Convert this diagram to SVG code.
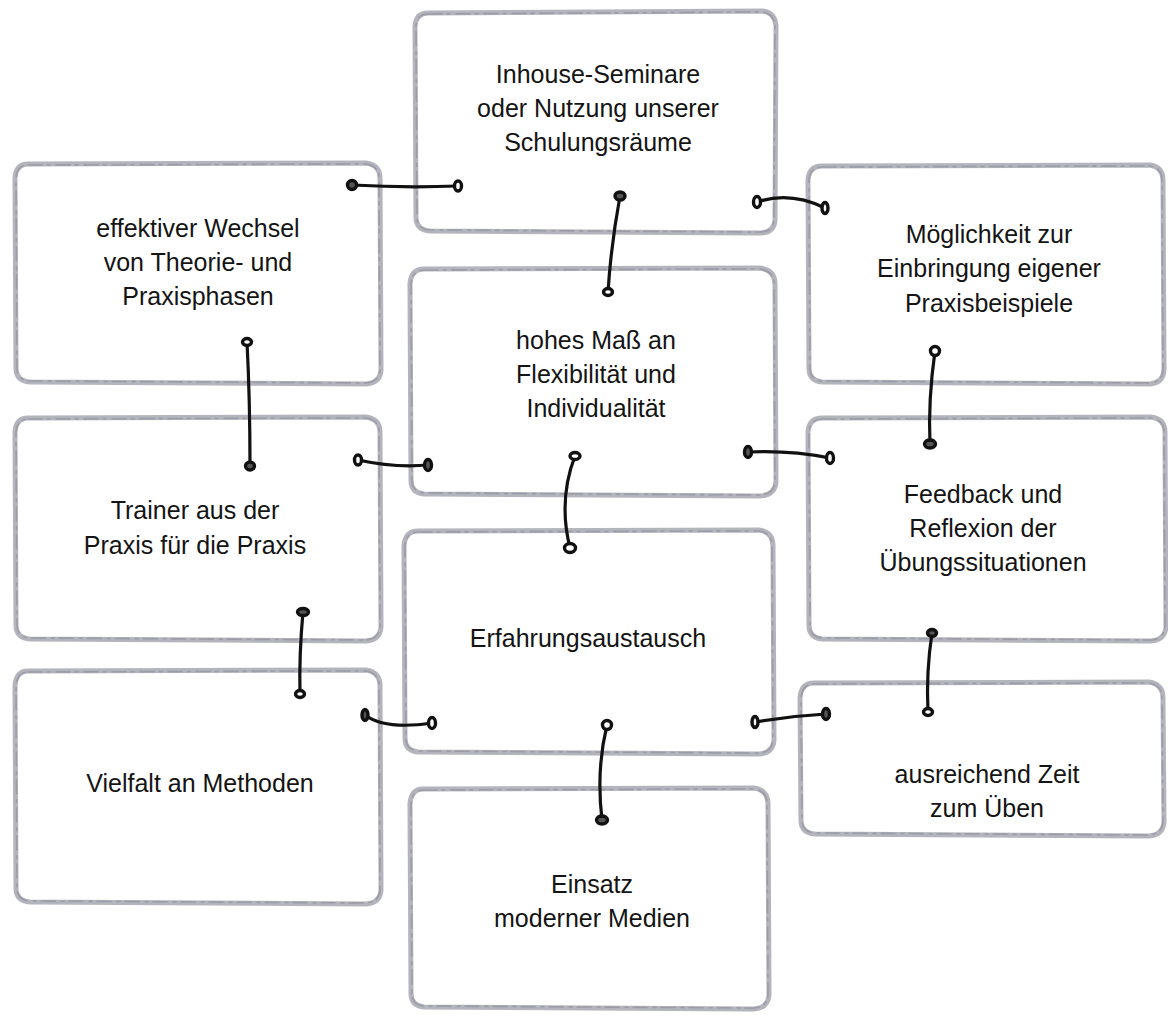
<svg xmlns="http://www.w3.org/2000/svg" width="1168" height="1019" viewBox="0 0 1168 1019">
<style>
.box{fill:none;stroke:#b4b4bd;stroke-width:5;stroke-linejoin:round;stroke-linecap:round}
.box2{fill:none;stroke:#9c9ca8;stroke-width:1.6;stroke-dasharray:14 5 3 6;stroke-linecap:round}
.lbl{font-family:"Liberation Sans",Arial,sans-serif;font-size:25px;fill:#141414;text-anchor:middle}
.con{fill:none;stroke:#111;stroke-width:3.2;stroke-linecap:round}
.pin{fill:#fff;stroke:#111;stroke-width:3.4}
.pinf{fill:#555;stroke:#111;stroke-width:3.4}
</style>
<rect width="1168" height="1019" fill="#fff"/>
<g id="box-inhouse">
<path class="box" d="M428,13 L762,11 Q775,12 776,26 L775,220 Q774,233 760,233 L430,231 Q416,230 416,217 L415,26 Q416,13 428,13 Z"/>
<path class="box2" d="M428,14 L762,12 Q774,13 775,26 L774,220 Q773,232 760,232 L430,230 Q417,229 417,217 L416,26 Q417,14 428,14 Z"/>
<text class="lbl" x="598" y="83">Inhouse-Seminare</text>
<text class="lbl" x="598" y="117">oder Nutzung unserer</text>
<text class="lbl" x="598" y="151">Schulungsräume</text>
</g>
<g id="box-wechsel">
<path class="box" d="M28,164 L366,163 Q380,165 380,178 L381,370 Q380,383 366,384 L30,382 Q16,381 16,368 L15,178 Q16,164 28,164 Z"/>
<path class="box2" d="M28,165 L366,164 Q379,166 379,178 L380,370 Q379,382 366,383 L30,381 Q17,380 17,368 L16,178 Q17,165 28,165 Z"/>
<text class="lbl" x="198" y="237">effektiver Wechsel</text>
<text class="lbl" x="198" y="271">von Theorie- und</text>
<text class="lbl" x="198" y="305">Praxisphasen</text>
</g>
<g id="box-flex">
<path class="box" d="M424,269 L760,268 Q775,270 775,284 L776,482 Q775,495 760,496 L424,494 Q411,493 411,480 L410,284 Q411,269 424,269 Z"/>
<path class="box2" d="M424,270 L760,269 Q774,271 774,284 L775,482 Q774,494 760,495 L424,493 Q412,492 412,480 L411,284 Q412,270 424,270 Z"/>
<text class="lbl" x="596" y="349">hohes Maß an</text>
<text class="lbl" x="596" y="383">Flexibilität und</text>
<text class="lbl" x="596" y="417">Individualität</text>
</g>
<g id="box-beispiele">
<path class="box" d="M822,166 L1150,165 Q1163,167 1163,180 L1164,370 Q1163,383 1150,384 L822,382 Q809,381 809,368 L808,180 Q809,166 822,166 Z"/>
<path class="box2" d="M822,167 L1150,166 Q1162,168 1162,180 L1163,370 Q1162,382 1150,383 L822,381 Q810,380 810,368 L809,180 Q810,167 822,167 Z"/>
<text class="lbl" x="989" y="243">Möglichkeit zur</text>
<text class="lbl" x="989" y="277">Einbringung eigener</text>
<text class="lbl" x="989" y="312">Praxisbeispiele</text>
</g>
<g id="box-trainer">
<path class="box" d="M28,418 L366,417 Q380,419 380,432 L381,627 Q380,640 366,641 L30,639 Q16,638 16,625 L15,432 Q16,418 28,418 Z"/>
<path class="box2" d="M28,419 L366,418 Q379,420 379,432 L380,627 Q379,639 366,640 L30,638 Q17,637 17,625 L16,432 Q17,419 28,419 Z"/>
<text class="lbl" x="195" y="519">Trainer aus der</text>
<text class="lbl" x="195" y="554">Praxis für die Praxis</text>
</g>
<g id="box-austausch">
<path class="box" d="M418,531 L759,530 Q773,532 773,546 L774,740 Q773,753 759,754 L418,752 Q405,751 405,738 L404,546 Q405,531 418,531 Z"/>
<path class="box2" d="M418,532 L759,531 Q772,533 772,546 L773,740 Q772,752 759,753 L418,751 Q406,750 406,738 L405,546 Q406,532 418,532 Z"/>
<text class="lbl" x="588" y="647">Erfahrungsaustausch</text>
</g>
<g id="box-feedback">
<path class="box" d="M822,418 L1151,417 Q1165,419 1165,432 L1166,627 Q1165,640 1151,641 L822,639 Q809,638 809,625 L808,432 Q809,418 822,418 Z"/>
<path class="box2" d="M822,419 L1151,418 Q1164,420 1164,432 L1165,627 Q1164,639 1151,640 L822,638 Q810,637 810,625 L809,432 Q810,419 822,419 Z"/>
<text class="lbl" x="983" y="503">Feedback und</text>
<text class="lbl" x="983" y="537">Reflexion der</text>
<text class="lbl" x="983" y="571">Übungssituationen</text>
</g>
<g id="box-methoden">
<path class="box" d="M28,671 L366,670 Q380,672 380,686 L381,890 Q380,903 366,904 L30,902 Q16,901 16,888 L15,686 Q16,671 28,671 Z"/>
<path class="box2" d="M28,672 L366,671 Q379,673 379,686 L380,890 Q379,902 366,903 L30,901 Q17,900 17,888 L16,686 Q17,672 28,672 Z"/>
<text class="lbl" x="200" y="792">Vielfalt an Methoden</text>
</g>
<g id="box-medien">
<path class="box" d="M423,789 L754,788 Q768,790 768,804 L769,995 Q768,1008 754,1009 L424,1007 Q411,1006 411,993 L410,804 Q411,789 423,789 Z"/>
<path class="box2" d="M423,790 L754,789 Q767,791 767,804 L768,995 Q767,1007 754,1008 L424,1006 Q412,1005 412,993 L411,804 Q412,790 423,790 Z"/>
<text class="lbl" x="592" y="893">Einsatz</text>
<text class="lbl" x="592" y="927">moderner Medien</text>
</g>
<g id="box-zeit">
<path class="box" d="M814,683 L1149,682 Q1163,684 1163,698 L1164,822 Q1163,835 1149,836 L815,834 Q801,833 801,820 L800,698 Q801,683 814,683 Z"/>
<path class="box2" d="M814,684 L1149,683 Q1162,685 1162,698 L1163,822 Q1162,834 1149,835 L815,833 Q802,832 802,820 L801,698 Q802,684 814,684 Z"/>
<text class="lbl" x="987" y="783">ausreichend Zeit</text>
<text class="lbl" x="987" y="817">zum Üben</text>
</g>
<g id="connectors">
<path class="con" d="M352,185 Q405,188 458,186"/>
<ellipse class="pinf" cx="352" cy="185" rx="4.5" ry="4.5"/>
<ellipse class="pin" cx="458" cy="186" rx="3.5" ry="5"/>
<path class="con" d="M620,196 Q611,245 608,292"/>
<ellipse class="pinf" cx="620" cy="196" rx="5" ry="4"/>
<ellipse class="pin" cx="608" cy="292" rx="4.5" ry="3.5"/>
<path class="con" d="M757,202 Q790,191 825,208"/>
<ellipse class="pin" cx="757" cy="202" rx="3.5" ry="5.5"/>
<ellipse class="pin" cx="825" cy="208" rx="3" ry="5.5"/>
<path class="con" d="M247,342 Q250,400 250,466"/>
<ellipse class="pin" cx="247" cy="342" rx="4.5" ry="3.5"/>
<ellipse class="pinf" cx="250" cy="466" rx="4.5" ry="4"/>
<path class="con" d="M358,460 Q395,468 428,465"/>
<ellipse class="pin" cx="358" cy="460" rx="3.5" ry="5"/>
<ellipse class="pinf" cx="428" cy="465" rx="3.5" ry="5.5"/>
<path class="con" d="M575,456 Q558,500 570,548"/>
<ellipse class="pin" cx="575" cy="456" rx="5" ry="3.5"/>
<ellipse class="pin" cx="570" cy="548" rx="5.5" ry="4.5"/>
<path class="con" d="M748,452 Q790,450 830,458"/>
<ellipse class="pinf" cx="748" cy="452" rx="3.5" ry="5.5"/>
<ellipse class="pin" cx="830" cy="458" rx="3.5" ry="5.5"/>
<path class="con" d="M935,351 Q928,400 930,444"/>
<ellipse class="pin" cx="935" cy="351" rx="4.5" ry="4.5"/>
<ellipse class="pinf" cx="930" cy="444" rx="5.5" ry="4"/>
<path class="con" d="M303,612 Q299,655 300,694"/>
<ellipse class="pinf" cx="303" cy="612" rx="5.5" ry="3.5"/>
<ellipse class="pin" cx="300" cy="694" rx="4.5" ry="3.5"/>
<path class="con" d="M365,715 Q385,730 432,723"/>
<ellipse class="pinf" cx="365" cy="715" rx="3" ry="5.5"/>
<ellipse class="pin" cx="432" cy="723" rx="3.5" ry="5.5"/>
<path class="con" d="M607,725 Q596,770 602,820"/>
<ellipse class="pin" cx="607" cy="725" rx="4.5" ry="4.5"/>
<ellipse class="pinf" cx="602" cy="820" rx="5.5" ry="4"/>
<path class="con" d="M755,722 Q790,716 826,714"/>
<ellipse class="pin" cx="755" cy="722" rx="3" ry="5.5"/>
<ellipse class="pinf" cx="826" cy="714" rx="3.5" ry="5.5"/>
<path class="con" d="M932,633 Q926,672 928,712"/>
<ellipse class="pinf" cx="932" cy="633" rx="4.5" ry="3.5"/>
<ellipse class="pin" cx="928" cy="712" rx="4.5" ry="3.5"/>
</g>
</svg>
